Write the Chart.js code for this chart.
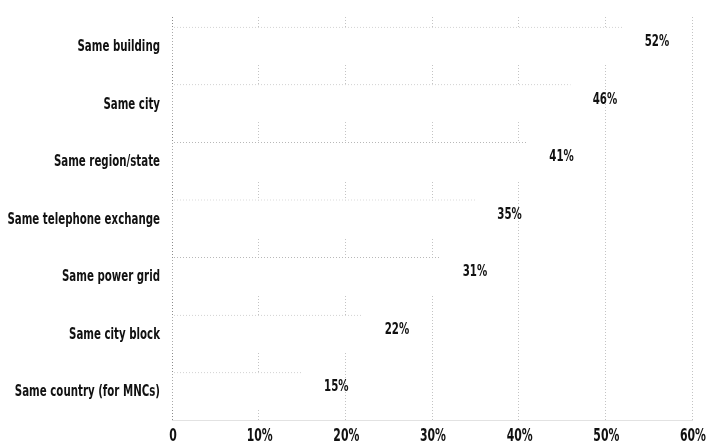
<!DOCTYPE html>
<html>
<head>
<meta charset="utf-8">
<script src="https://cdn.jsdelivr.net/npm/chart.js@4/dist/chart.umd.min.js"></script>
<style>
  html, body { margin: 0; padding: 0; background: #fff; }
  .chart-container { position: relative; width: 707px; height: 448px; }
</style>
</head>
<body>
<div class="chart-container">
  <canvas id="colocation-chart"></canvas>
</div>
<script>
// Share of respondents per co-location type
const categories = [
  'Same building',
  'Same city',
  'Same region/state',
  'Same telephone exchange',
  'Same power grid',
  'Same city block',
  'Same country (for MNCs)'
];
const shares = [52, 46, 41, 35, 31, 22, 15];
const xTicks = [0, 10, 20, 30, 40, 50, 60];

const FAMILY = '"DejaVu Sans", sans-serif';
const SQUEEZE = 0.64; // no condensed face installed, so narrow the glyphs by hand

// dotted fill used for the faint top edge of each bar
function dottedPattern(color) {
  const c = document.createElement('canvas');
  c.width = 3;
  c.height = 1;
  const g = c.getContext('2d');
  g.fillStyle = color;
  g.fillRect(0, 0, 1, 1);
  return g.createPattern(c, 'repeat');
}

function narrowText(ctx, text, x, y, align, size) {
  ctx.save();
  ctx.font = 'bold ' + size + 'px ' + FAMILY;
  ctx.translate(x, y);
  ctx.scale(SQUEEZE, 1);
  ctx.textAlign = align;
  ctx.fillText(text, 0, 0);
  ctx.restore();
}

// category names, axis ticks and the "52%" style value labels
const narrowLabels = {
  id: 'narrowLabels',
  afterDraw(chart) {
    const ctx = chart.ctx;
    const xScale = chart.scales.x;
    const yScale = chart.scales.y;
    const meta = chart.getDatasetMeta(0);
    ctx.save();
    ctx.fillStyle = '#111';
    ctx.textBaseline = 'middle';

    categories.forEach((name, i) => {
      narrowText(ctx, name, yScale.right - 12, yScale.getPixelForValue(i) + 1, 'right', 16);
    });

    xTicks.forEach((v) => {
      const text = v === 0 ? '0' : v + '%';
      narrowText(ctx, text, xScale.getPixelForValue(v) + 1, xScale.top + 17, 'center', 17);
    });

    meta.data.forEach((bar, i) => {
      narrowText(ctx, shares[i] + '%', bar.x + 22, bar.y - 4, 'left', 16);
    });
    ctx.restore();
  }
};

const ctx = document.getElementById('colocation-chart').getContext('2d');

new Chart(ctx, {
  type: 'bar',
  data: {
    labels: categories,
    datasets: [{
      data: shares,
      backgroundColor: '#ffffff',
      borderColor: dottedPattern('#b8b8b8'),
      borderWidth: { top: 1, right: 0, bottom: 0, left: 0 },
      borderSkipped: false,
      categoryPercentage: 1,
      barPercentage: 0.66
    }]
  },
  options: {
    indexAxis: 'y',
    responsive: true,
    maintainAspectRatio: false,
    animation: false,
    layout: {
      padding: { top: 17, right: 15, bottom: 0, left: 0 }
    },
    plugins: {
      legend: { display: false },
      tooltip: { enabled: false }
    },
    scales: {
      x: {
        min: 0,
        max: 60,
        afterBuildTicks: (scale) => {
          scale.ticks = xTicks.map(v => ({ value: v }));
        },
        afterFit: (scale) => {
          scale.height = 28;
          scale.paddingLeft = 0;
          scale.paddingRight = 0;
        },
        grid: {
          color: (c) => c.tick && c.tick.value === 0 ? '#8c8c8c' : '#c4c4c4',
          lineWidth: 1,
          drawTicks: false
        },
        border: {
          display: true,
          color: '#e2e2e2',
          dash: [1, 2]
        },
        ticks: { display: false }
      },
      y: {
        afterFit: (scale) => { scale.width = 172; },
        grid: { display: false },
        border: { display: false },
        ticks: { display: false }
      }
    }
  },
  plugins: [narrowLabels]
});
</script>
</body>
</html>
